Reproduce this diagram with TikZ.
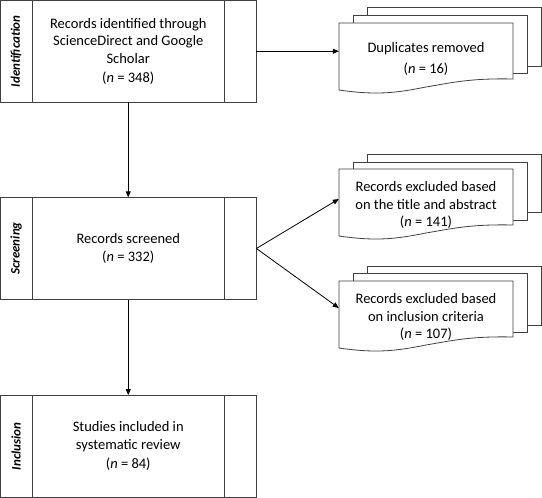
\documentclass[tikz,border=0pt]{standalone}
\usepackage{fontspec}
\setmainfont{Carlito}
\usetikzlibrary{arrows.meta}
\tikzset{%
  tipA/.tip={Triangle[length=6pt,width=5pt]},
  stagebox/.style={draw=black!75, line width=0.8pt, minimum width=255.5pt, minimum height=101.5pt, inner sep=0pt, align=center, font=\fontsize{14.5}{17.5}\selectfont},
  stagelabel/.style={rotate=90, font=\fontsize{13}{15}\selectfont\bfseries\itshape},
  doctext/.style={minimum width=174pt, minimum height=72pt, inner sep=0pt, align=center, font=\fontsize{14.5}{17.5}\selectfont},
  sheet/.style={draw=black!75, line width=0.8pt, fill=white},
  flow/.style={draw=black, line width=0.8pt, -tipA}
}

\begin{document}
\begin{tikzpicture}[x=1pt,y=-1pt]
\useasboundingbox (0,0) rectangle (542,498);
% stages on the left
\node[stagebox] (ident) at (128.25,51.25) {Records identified through\\ScienceDirect and Google\\Scholar\\[2pt](\textit{n} = 348)};
\node[stagebox] (scr) at (128.25,248.5) {Records screened\\(\textit{n} = 332)};
\node[stagebox] (incl) at (128.25,446.25) {Studies included in\\systematic review\\[2pt](\textit{n} = 84)};
\draw[black!75, line width=0.8pt] ([xshift=32pt]ident.north west) -- ([xshift=32pt]ident.south west);
\draw[black!75, line width=0.8pt] ([xshift=-32pt]ident.north east) -- ([xshift=-32pt]ident.south east);
\draw[black!75, line width=0.8pt] ([xshift=32pt]scr.north west) -- ([xshift=32pt]scr.south west);
\draw[black!75, line width=0.8pt] ([xshift=-32pt]scr.north east) -- ([xshift=-32pt]scr.south east);
\draw[black!75, line width=0.8pt] ([xshift=32pt]incl.north west) -- ([xshift=32pt]incl.south west);
\draw[black!75, line width=0.8pt] ([xshift=-32pt]incl.north east) -- ([xshift=-32pt]incl.south east);
\node[stagelabel] (identlab) at ([xshift=16pt]ident.west) {Identification};
\node[stagelabel] (scrlab) at ([xshift=16pt]scr.west) {Screening};
\node[stagelabel] (incllab) at ([xshift=16pt]incl.west) {Inclusion};
% document stacks on the right
\draw[sheet] (367,7) rectangle (541,66);
\draw[sheet] (353,15) rectangle (527,73);
\draw[sheet] (339,23) -- (513,23) -- (513,79) .. controls (470,78) and (450,83) .. (426,87) .. controls (400,92) and (380,96) .. (339,90) -- cycle;
\node[doctext] (dup) at (426,59) {Duplicates removed\\[4pt](\textit{n} = 16)};
\draw[sheet] (367,154) rectangle (541,212);
\draw[sheet] (353,162) rectangle (527,220);
\draw[sheet] (339,169) -- (513,169) -- (513,225) .. controls (470,224) and (450,229) .. (426,233) .. controls (400,238) and (380,242) .. (339,236) -- cycle;
\node[doctext] (excl1) at (426,205) {Records excluded based\\on the title and abstract\\(\textit{n} = 141)};
\draw[sheet] (367,266) rectangle (541,325);
\draw[sheet] (353,273) rectangle (527,332);
\draw[sheet] (339,281) -- (513,281) -- (513,337) .. controls (470,336) and (450,341) .. (426,345) .. controls (400,350) and (380,354) .. (339,348) -- cycle;
\node[doctext] (excl2) at (426,317) {Records excluded based\\on inclusion criteria\\(\textit{n} = 107)};
% arrows
\draw[flow] (ident.south) -- (scr.north);
\draw[flow] (scr.south) -- (incl.north);
\draw[flow] (ident.east) -- (ident.east -| dup.west);
\draw[flow] (scr.east) -- ([yshift=6pt]excl1.west);
\draw[flow] (scr.east) -- ([yshift=9pt]excl2.west);
\end{tikzpicture}
\end{document}
